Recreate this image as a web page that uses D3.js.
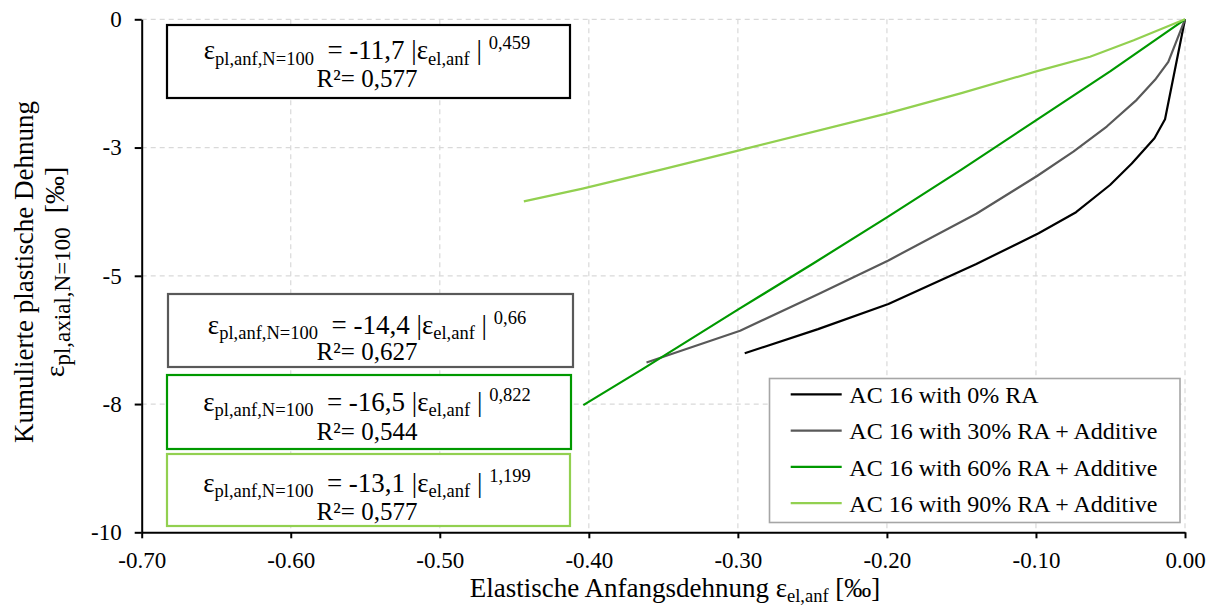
<!DOCTYPE html>
<html>
<head>
<meta charset="utf-8">
<script src="https://cdn.jsdelivr.net/npm/d3@7"></script>
<style>
  html, body { margin: 0; padding: 0; background: #fff; }
  svg { display: block; font-family: "Liberation Serif", "Times New Roman", serif; }
  text { white-space: pre; font-family: "Liberation Serif", "Times New Roman", serif; }
</style>
</head>
<body>
<svg id="chart" width="1210" height="607"></svg>
<script>
// Cumulative plastic strain after 100 load cycles vs. elastic initial strain, per mix
const seriesNames = [
  "AC 16 with 0% RA",
  "AC 16 with 30% RA + Additive",
  "AC 16 with 60% RA + Additive",
  "AC 16 with 90% RA + Additive"
];
const seriesColors = ["#000000", "#595959", "#009900", "#92d050"];

// Elastic initial strain [‰]
const ra0X  = [-0.2954, -0.2462, -0.199, -0.140, -0.0982, -0.0731, -0.0503, -0.0357, -0.0205, -0.0134, 0];
const ra30X = [-0.3613, -0.2985, -0.2462, -0.199, -0.140, -0.099, -0.0749, -0.0525, -0.0324, -0.0201, -0.0112, 0];
const ra60X = [-0.4037, -0.3645, -0.30, -0.25, -0.20, -0.15, -0.10, -0.05, 0];
const ra90X = [-0.4436, -0.4042, -0.35, -0.2985, -0.199, -0.15, -0.0992, -0.0637, -0.0344, 0];

// Cumulative plastic strain [‰]
const ra0Y  = [-6.51, -6.04, -5.55, -4.77, -4.17, -3.76, -3.23, -2.81, -2.32, -1.95, 0];
const ra30Y = [-6.69, -6.07, -5.36, -4.70, -3.79, -3.05, -2.58, -2.09, -1.57, -1.18, -0.83, 0];
const ra60Y = [-7.52, -6.83, -5.66, -4.77, -3.86, -2.93, -1.97, -1.01, 0];
const ra90Y = [-3.55, -3.30, -2.92, -2.55, -1.83, -1.44, -1.01, -0.73, -0.41, 0];

// Axis ticks
const xTickValues = [-0.7, -0.6, -0.5, -0.4, -0.3, -0.2, -0.1, 0];
const xTickLabels = ["-0.70", "-0.60", "-0.50", "-0.40", "-0.30", "-0.20", "-0.10", "0.00"];
const yTickValues = [0, -2.5, -5, -7.5, -10];
const yTickLabels = ["0", "-3", "-5", "-8", "-10"];

// Power-law fits shown in the annotation boxes (top to bottom)
const fitCoeffs    = ["-11,7", "-14,4", "-16,5", "-13,1"];
const fitExponents = ["0,459", "0,66", "0,822", "1,199"];
const fitR2        = ["0,577", "0,627", "0,544", "0,577"];
const fitColors    = ["#000000", "#595959", "#009900", "#92d050"];

const seriesX = [ra0X, ra30X, ra60X, ra90X];
const seriesY = [ra0Y, ra30Y, ra60Y, ra90Y];

// ---- layout ----
const FONT = "'Liberation Serif', 'Times New Roman', serif";
const svg = d3.select("#chart");
const plot = { left: 141.7, top: 19.3, right: 1185, bottom: 532.3 };

const x = d3.scaleLinear().domain([-0.7, 0]).range([plot.left, plot.right]);
const y = d3.scaleLinear().domain([-10, 0]).range([plot.bottom, plot.top]);

// gridlines
const grid = svg.append("g").attr("stroke", "#d9d9d9").attr("stroke-width", 1.2)
  .attr("stroke-dasharray", "5,4");
grid.selectAll("line.v").data(xTickValues.slice(1)).join("line")
  .attr("x1", d => x(d)).attr("x2", d => x(d))
  .attr("y1", plot.top).attr("y2", plot.bottom);
grid.selectAll("line.h").data(yTickValues.slice(0, -1)).join("line")
  .attr("x1", plot.left).attr("x2", plot.right)
  .attr("y1", d => y(d)).attr("y2", d => y(d));

// series curves
const line = d3.line().x(d => x(d[0])).y(d => y(d[1]));
seriesX.forEach((xs, i) => {
  svg.append("path")
    .datum(xs.map((v, j) => [v, seriesY[i][j]]))
    .attr("fill", "none")
    .attr("stroke", seriesColors[i])
    .attr("stroke-width", 2.2)
    .attr("stroke-linejoin", "round")
    .attr("d", line);
});

// fit equation boxes
const boxLayout = [
  { x: 167, y: 25,  w: 403, h: 73, main: 34,   r2: 62 },
  { x: 168, y: 294, w: 405, h: 73, main: 39.5, r2: 65.5 },
  { x: 167, y: 375, w: 404, h: 74, main: 35.5, r2: 65 },
  { x: 167, y: 454, w: 403, h: 72, main: 37.5, r2: 66 }
];
boxLayout.forEach((b, i) => {
  const g = svg.append("g");
  g.append("rect").attr("x", b.x).attr("y", b.y).attr("width", b.w).attr("height", b.h)
    .attr("fill", "#fff").attr("stroke", fitColors[i]).attr("stroke-width", 2.2);
  const cx = 367;
  const t = g.append("text").attr("x", cx).attr("y", b.y + b.main)
    .attr("text-anchor", "middle").attr("font-family", FONT)
    .style("font-size", "27px").attr("fill", "#000");
  t.append("tspan").text("ε");
  t.append("tspan").attr("dy", 5.5).style("font-size", "18.5px").text("pl,anf,N=100");
  t.append("tspan").attr("dy", -5.5).text("\u00a0 = " + fitCoeffs[i] + " |ε");
  t.append("tspan").attr("dy", 5.5).style("font-size", "18.5px").text("el,anf");
  t.append("tspan").attr("dy", -5.5).text(" | ");
  t.append("tspan").attr("dy", -10).style("font-size", "18.5px").text(fitExponents[i]);
  g.append("text").attr("x", cx).attr("y", b.y + b.r2)
    .attr("text-anchor", "middle").attr("font-family", FONT)
    .style("font-size", "25px").attr("fill", "#000")
    .text("R²= " + fitR2[i]);
});

// legend
const legend = svg.append("g");
legend.append("rect").attr("x", 769.5).attr("y", 378.5).attr("width", 410.5).attr("height", 144)
  .attr("fill", "#fff").attr("stroke", "#a6a6a6").attr("stroke-width", 1.6);
seriesNames.forEach((name, i) => {
  const ly = 394.3 + i * 36.3;
  legend.append("line").attr("x1", 790.7).attr("x2", 841.7).attr("y1", ly).attr("y2", ly)
    .attr("stroke", seriesColors[i]).attr("stroke-width", 2.2);
  legend.append("text").attr("x", 849.3).attr("y", ly + 8.8).attr("font-family", FONT)
    .style("font-size", "24px").attr("fill", "#000").text(name);
});

// axes
const xAxis = svg.append("g").attr("transform", `translate(0,${plot.bottom})`)
  .call(d3.axisBottom(x).tickValues(xTickValues).tickFormat((d, i) => xTickLabels[i])
    .tickSizeInner(6).tickSizeOuter(0).tickPadding(13));
const yAxis = svg.append("g").attr("transform", `translate(${plot.left},0)`)
  .call(d3.axisLeft(y).tickValues(yTickValues).tickFormat((d, i) => yTickLabels[i])
    .tickSizeInner(7).tickSizeOuter(0).tickPadding(13));
[xAxis, yAxis].forEach(a => {
  a.attr("font-family", FONT);
  a.select(".domain").attr("stroke", "#000").attr("stroke-width", 2);
  a.selectAll(".tick line").attr("stroke", "#000").attr("stroke-width", 2);
  a.selectAll(".tick text").attr("fill", "#000")
    .style("font-family", FONT).style("font-size", "23px");
});

// axis titles
const xt = svg.append("text").attr("x", 675).attr("y", 597).attr("text-anchor", "middle")
  .attr("font-family", FONT).style("font-size", "27px").attr("fill", "#000");
xt.append("tspan").text("Elastische Anfangsdehnung ε");
xt.append("tspan").attr("dy", 5).style("font-size", "18.5px").text("el,anf");
xt.append("tspan").attr("dy", -5).text(" [‰]");

svg.append("text").attr("transform", "translate(33,272) rotate(-90)").attr("text-anchor", "middle")
  .attr("font-family", FONT).style("font-size", "27px").attr("fill", "#000")
  .text("Kumulierte plastische Dehnung");
const yt = svg.append("text").attr("transform", "translate(64,272) rotate(-90)").attr("text-anchor", "middle")
  .attr("font-family", FONT).style("font-size", "28px").attr("fill", "#000");
yt.append("tspan").text("ε");
yt.append("tspan").attr("dy", 6).style("font-size", "23px").text("pl,axial,N=100");
yt.append("tspan").attr("dy", -6).text("\u00a0 [‰]");
</script>
</body>
</html>
